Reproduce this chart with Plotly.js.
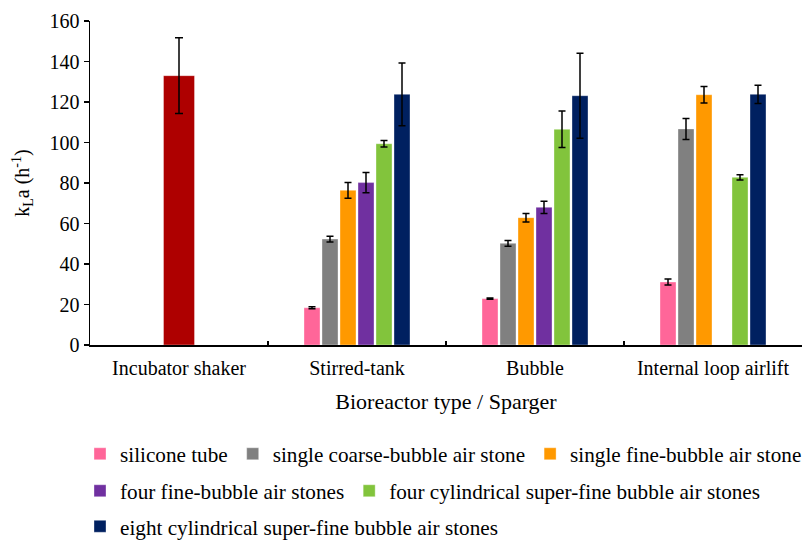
<!DOCTYPE html>
<html>
<head>
<meta charset="utf-8">
<script src="https://cdn.plot.ly/plotly-3.0.1.min.js"></script>
<style>html,body{margin:0;padding:0;background:#fff;}#chart{width:806px;height:540px;}</style>
</head>
<body>
<div id="chart"></div>
<script>
// ---- data ----
const categories = ['Incubator shaker', 'Stirred-tank', 'Bubble', 'Internal loop airlift'];
const reactorCats = ['Stirred-tank', 'Bubble', 'Internal loop airlift'];

const shakerCat = ['Incubator shaker'];
const shakerVal = [133];
const shakerErr = [18.7];

const seriesNames = [
  'silicone tube',
  'single coarse-bubble air stone',
  'single fine-bubble air stone',
  'four fine-bubble air stones',
  'four cylindrical super-fine bubble air stones',
  'eight cylindrical super-fine bubble air stones'
];
const siliconeTube   = [18.4, 22.9, 31.1];
const siliconeErr    = [0.5, 0.3, 1.5];
const coarseSingle   = [52.3, 50.2, 106.7];
const coarseErr      = [1.4, 1.4, 5.2];
const fineSingle     = [76.4, 62.9, 123.6];
const fineSingleErr  = [3.9, 2.1, 4.1];
const fineFour       = [80.2, 68.0, null];
const fineFourErr    = [5.0, 3.0, null];
const cylFour        = [99.4, 106.5, 82.8];
const cylFourErr     = [1.6, 9.0, 1.3];
const cylEight       = [123.8, 123.1, 123.8];
const cylEightErr    = [15.5, 21.0, 4.5];

const yTicks = [0, 20, 40, 60, 80, 100, 120, 140, 160];

// ---- styling ----
const colors = ['#FF6699', '#808080', '#FF9900', '#7030A0', '#82C43C', '#002060'];
const shakerColor = '#AE0000';
const values = [siliconeTube, coarseSingle, fineSingle, fineFour, cylFour, cylEight];
const errors = [siliconeErr, coarseErr, fineSingleErr, fineFourErr, cylFourErr, cylEightErr];
const legendOf = ['legend', 'legend', 'legend', 'legend2', 'legend2', 'legend3'];
const FONT = 'Liberation Serif, Times New Roman, serif';

const slot = 18 / 178, barW = 16 / 178;
const traces = [];
traces.push({
  type: 'bar', x: shakerCat, y: shakerVal, name: 'Incubator shaker',
  showlegend: false, width: 31 / 178, offset: -31 / 356,
  marker: {color: shakerColor, line: {color: 'rgba(255,255,255,0.35)', width: 1}},
  error_y: {type: 'data', array: shakerErr, visible: true, color: '#000', thickness: 1.5, width: 4}
});
values.forEach((v, i) => {
  traces.push({
    type: 'bar', x: reactorCats, y: v, name: seriesNames[i], legend: legendOf[i],
    width: barW, offset: (i - 2.5) * slot - barW / 2,
    marker: {color: colors[i], line: {color: 'rgba(255,255,255,0.35)', width: 1}},
    error_y: {type: 'data', array: errors[i], visible: true, color: '#000', thickness: 1.5, width: 3.5}
  });
});

const legendBase = {
  orientation: 'h', xref: 'paper', yref: 'paper', xanchor: 'left', yanchor: 'middle',
  x: -10 / 712, font: {family: FONT, size: 21.2, color: '#000'}, bgcolor: 'rgba(0,0,0,0)',
  borderwidth: 0, tracegroupgap: 0, itemclick: false
};
const rowY = py => (345 - py) / 324;

const layout = {
  width: 806, height: 540,
  margin: {l: 90, r: 4, t: 21, b: 195, autoexpand: false},
  paper_bgcolor: '#fff', plot_bgcolor: '#fff',
  font: {family: FONT, size: 20, color: '#000'},
  barmode: 'overlay',
  showlegend: true,
  xaxis: {
    type: 'category', categoryorder: 'array', categoryarray: categories,
    range: [-0.5, 3.5], showgrid: false, zeroline: false,
    showline: true, linecolor: '#000', linewidth: 1.5,
    ticks: 'inside', tickson: 'boundaries', ticklen: 4, tickwidth: 1.5, tickcolor: '#000',
    ticklabelstandoff: 4,
    tickfont: {family: FONT, size: 20, color: '#000'},
    title: {text: 'Bioreactor type / Sparger', font: {family: FONT, size: 22, color: '#000'}, standoff: 15}
  },
  yaxis: {
    range: [0, 160], tickvals: yTicks, ticktext: yTicks.map(String),
    showgrid: false, zeroline: false,
    showline: true, linecolor: '#000', linewidth: 1.5,
    ticks: 'outside', ticklen: 5, tickwidth: 1.5, tickcolor: '#000',
    tickfont: {family: FONT, size: 20, color: '#000'},
    title: {text: 'k<sub>L</sub>a (h<sup>-1</sup>)', font: {family: FONT, size: 20, color: '#000'}, standoff: 14}
  },
  legend: Object.assign({}, legendBase, {y: rowY(454)}),
  legend2: Object.assign({}, legendBase, {y: rowY(491)}),
  legend3: Object.assign({}, legendBase, {y: rowY(526.5)})
};

Plotly.newPlot('chart', traces, layout, {displayModeBar: false, staticPlot: true});
</script>
</body>
</html>
